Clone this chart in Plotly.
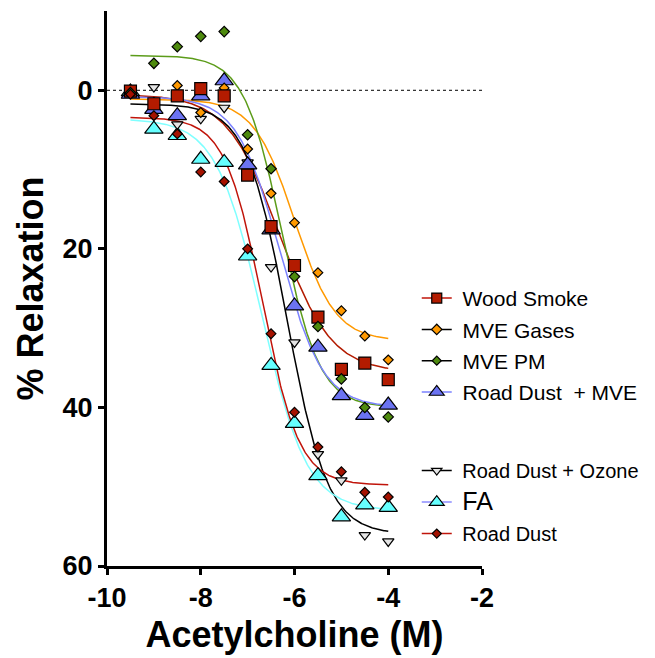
import numpy as np
import plotly.graph_objects as go

# ---- data ----
log_conc = [-9.5, -9, -8.5, -8, -7.5, -7, -6.5, -6, -5.5, -5, -4.5, -4]

wood_smoke = [0.1, 1.7, 0.7, -0.2, 0.7, 10.7, 17.2, 22.1, 28.6, 35.2, 34.4, 36.5]
mve_gases = [0.3, 1.5, -0.6, 2.8, -0.3, 7.4, 13.0, 16.7, 23.0, 27.8, 31.0, 34.0]
mve_pm = [0.3, -3.4, -5.5, -6.8, -7.4, 5.6, 9.9, 23.5, 29.8, 36.4, 40.0, 41.2]
rd_mve = [0.5, 2.4, 3.2, 0.7, -1.2, 9.4, 17.6, 27.2, 32.4, 38.5, 41.0, 39.7]
rd_ozone = [0.3, -0.4, 4.3, 3.6, 2.2, 9.1, 22.3, 31.8, 45.9, 49.2, 56.1, 56.9]
fa = [0.2, 4.9, 5.7, 8.7, 9.1, 20.9, 34.7, 42.0, 48.6, 53.8, 52.3, 52.6]
road_dust = [0.5, 3.2, 5.5, 10.3, 11.5, 20.0, 30.7, 40.6, 45.0, 48.1, 50.7, 51.3]

series_names = ["Wood Smoke", "MVE Gases", "MVE PM", "Road Dust  + MVE",
                "Road Dust + Ozone", "FA", "Road Dust"]

# sigmoid fit parameters (top, bottom, logEC50, Hill slope) per series
fit_top = [0.5, 1.1, -4.4, 0.8, 1.7, 3.6, 3.4]
fit_bottom = [35.6, 31.6, 40.0, 40.0, 56.0, 53.0, 49.8]
fit_logec50 = [-6.33, -6.0, -6.27, -6.31, -6.16, -6.7, -6.69]
fit_hill = [0.78, 1.0, 1.07, 0.95, 1.0, 0.9, 1.1]

x_ticks = [-10, -8, -6, -4, -2]
y_ticks = [0, 20, 40, 60]

# ---- styles ----
series_values = [wood_smoke, mve_gases, mve_pm, rd_mve, rd_ozone, fa, road_dust]
marker_fill = ["#B31B00", "#FF9900", "#4E8A0E", "#6B73F2", "#E4E4E4", "#66FFFF", "#A51200"]
marker_symbol = ["square", "diamond", "diamond", "triangle-up", "triangle-down",
                 "triangle-up", "diamond"]
marker_size = [12, 7.5, 8, 16, 10, 16, 7.5]
curve_color = ["#B31B00", "#FF9900", "#5C9C1A", "#7B82FF", "#000000", "#7FFFFF", "#C0140A"]
legend_line = ["#C0140A", "#000000", "#000000", "#7B82FF", "#000000", "#8C8CFF", "#C0140A"]
legend_marker_size = [10, 8, 7, 13, 9, 13, 7]
legend_id = ["legend", "legend", "legend", "legend", "legend2", "legend2", "legend2"]
NB = "\u00a0"
legend_label = [NB + "Wood Smoke", NB + "MVE Gases", NB + "MVE PM",
                NB + "Road Dust" + NB + " + MVE",
                NB + "Road Dust + Ozone", NB + "<span style='font-size:25px'>FA</span>",
                NB + "Road Dust"]
draw_order = [5, 4, 3, 1, 0, 2, 6]

fig = go.Figure()

xs = np.linspace(-9.5, -4, 300)
for i in range(len(series_names)):
    ys = fit_top[i] + (fit_bottom[i] - fit_top[i]) / (1 + 10 ** ((fit_logec50[i] - xs) * fit_hill[i]))
    fig.add_trace(go.Scatter(x=xs, y=ys, mode="lines", showlegend=False, hoverinfo="skip",
                             line=dict(color=curve_color[i], width=1.5)))

for i in draw_order:
    fig.add_trace(go.Scatter(
        x=log_conc, y=series_values[i], mode="markers", showlegend=False,
        name=series_names[i],
        marker=dict(symbol=marker_symbol[i], size=marker_size[i], color=marker_fill[i],
                    line=dict(color="black", width=1.2))))

for i in range(len(series_names)):
    fig.add_trace(go.Scatter(
        x=[None], y=[None], mode="lines+markers", name=legend_label[i],
        legend=legend_id[i], legendgroup=str(i),
        line=dict(color=legend_line[i], width=1.5),
        marker=dict(symbol=marker_symbol[i], size=legend_marker_size[i], color=marker_fill[i],
                    line=dict(color="black", width=1.2))))

# dotted zero line
fig.add_shape(type="line", xref="paper", yref="y", x0=0, x1=1, y0=0, y1=0,
              line=dict(color="black", width=1, dash="dot"), layer="below")

bold = dict(family="Liberation Sans, Arial, sans-serif", color="black", weight="bold")

fig.update_layout(
    width=655, height=658,
    margin=dict(l=107, r=171, t=11, b=92),
    paper_bgcolor="white", plot_bgcolor="white",
    font=dict(family="Liberation Sans, Arial, sans-serif", color="black"),
    xaxis=dict(range=[-10, -2], tickvals=x_ticks, ticktext=[str(v) for v in x_ticks],
               showline=True, linecolor="black", linewidth=3, ticks="outside",
               ticklen=6, tickwidth=3, tickcolor="black", showgrid=False, zeroline=False,
               automargin=False,
               tickfont=dict(size=27, **bold),
               title=dict(text="Acetylcholine (M)", font=dict(size=36, **bold), standoff=10)),
    yaxis=dict(range=[60, -10], tickvals=y_ticks, showline=True, linecolor="black",
               linewidth=3, ticks="outside", ticklen=6, tickwidth=3, tickcolor="black",
               showgrid=False, zeroline=False, automargin=False,
               tickfont=dict(size=27, **bold),
               title=dict(text="% Relaxation", font=dict(size=36, **bold), standoff=8)),
    legend=dict(x=0.826, y=0.519, xanchor="left", yanchor="top", bgcolor="rgba(0,0,0,0)",
                font=dict(size=21, color="black", family="Liberation Sans, Arial, sans-serif"),
                tracegroupgap=1, itemwidth=30),
    legend2=dict(x=0.826, y=0.207, xanchor="left", yanchor="top", bgcolor="rgba(0,0,0,0)",
                 font=dict(size=20, color="black", family="Liberation Sans, Arial, sans-serif"),
                 tracegroupgap=2.5, itemwidth=30),
)

fig.write_html("out.html", config={"displayModeBar": False},
               post_script="document.body.style.margin='0px';")
